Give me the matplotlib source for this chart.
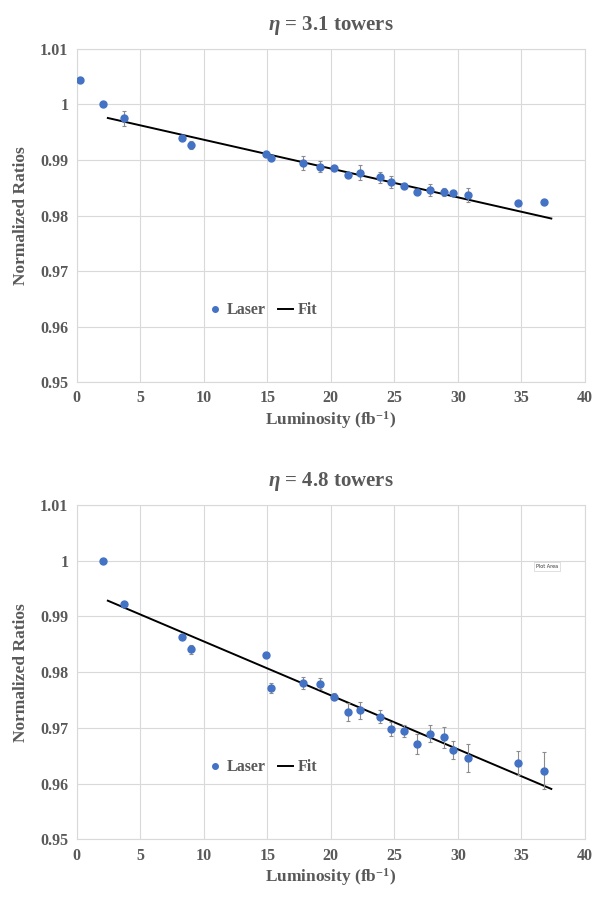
import numpy as np
import matplotlib
matplotlib.use("Agg")
import matplotlib.pyplot as plt
from matplotlib.lines import Line2D
from matplotlib.ticker import FuncFormatter

# luminosity points (fb^-1) and normalized laser ratios for the two tower rings
lumi = [0.26, 2.05, 3.72, 8.26, 9.02, 14.9, 15.3, 17.83, 19.12, 20.22, 21.35,
        22.29, 23.84, 24.75, 25.73, 26.75, 27.77, 28.88, 29.58, 30.81, 34.72, 36.79]

ratio_31 = [1.00444, 1.0, 0.99748, 0.99389, 0.99270, 0.99113, 0.99041, 0.98946,
            0.98879, 0.98862, 0.98723, 0.98772, 0.98687, 0.98610, 0.98532, 0.98424,
            0.98460, 0.98424, 0.98406, 0.98371, 0.98232, 0.98237]
err_31 = [0, 0, 0.0013, 0.0002, 0.0008, 0.0003, 0.0005, 0.0012, 0.001, 0.0003, 0.0003,
          0.0014, 0.001, 0.0011, 0.0004, 0.0003, 0.001, 0.0008, 0.0003, 0.0013, 0.0003, 0.0003]

# eta 4.8 has no point at the first luminosity
lumi_48 = lumi[1:]
ratio_48 = [1.0, 0.99217, 0.98636, 0.98409, 0.98302, 0.97709, 0.97802, 0.97792,
            0.97558, 0.97289, 0.97314, 0.97199, 0.96984, 0.96948, 0.96715, 0.96894,
            0.96829, 0.96596, 0.96452, 0.96373, 0.96230]
err_48 = [0, 0.0003, 0.0003, 0.0008, 0.0003, 0.0009, 0.0011, 0.001, 0.0006, 0.0016,
          0.0015, 0.0012, 0.0013, 0.0011, 0.0018, 0.0015, 0.0019, 0.0016, 0.0025,
          0.0022, 0.0033]

# linear fits (slope, intercept) and range drawn
fit_31 = (-0.000519, 0.99884)
fit_48 = (-0.000968, 0.9952)
fit_range = [2.45, 37.35]

panels = [
    (r"$\eta$ = 3.1 towers", lumi, ratio_31, err_31, fit_31),
    (r"$\eta$ = 4.8 towers", lumi_48, ratio_48, err_48, fit_48),
]

plt.rcParams['font.family'] = ['Liberation Serif', 'DejaVu Serif']
plt.rcParams['mathtext.fontset'] = 'custom'
plt.rcParams['mathtext.it'] = 'Liberation Serif:italic:bold'
plt.rcParams['mathtext.bf'] = 'Liberation Serif:bold'
plt.rcParams['mathtext.rm'] = 'Liberation Serif:bold'

txt = '#595959'
grid = '#d9d9d9'
blue = '#4472C4'

fig = plt.figure(figsize=(5.96, 8.97), dpi=100)
rects = [[0.1287, 0.5741, 0.8528, 0.3713], [0.1287, 0.0643, 0.8528, 0.3727]]

for rect, (title, x, y, e, fit) in zip(rects, panels):
    ax = fig.add_axes(rect)
    ax.errorbar(x, y, yerr=e, fmt='o', color=blue, ms=5, ecolor='#8c8c8c',
                elinewidth=0.8, capsize=1.5, capthick=0.8, zorder=3)
    fx = np.array(fit_range)
    ax.plot(fx, fit[0] * fx + fit[1], color='black', lw=1.4, zorder=2)

    ax.set_xlim(0, 40)
    ax.set_ylim(0.95, 1.01)
    ax.set_xticks(range(0, 41, 5))
    ax.set_yticks(np.arange(0.95, 1.0101, 0.01))
    ax.yaxis.set_major_formatter(FuncFormatter(lambda v, p: f"{round(v, 2):g}"))
    ax.grid(True, color=grid, lw=0.8)
    ax.set_axisbelow(True)
    for s in ax.spines.values():
        s.set_color(grid)
        s.set_linewidth(0.8)
    ax.tick_params(length=0, pad=6, labelsize=11.5, labelcolor=txt)
    for lab in ax.get_xticklabels() + ax.get_yticklabels():
        lab.set_fontweight('bold')

    ax.set_title(title, fontsize=15, fontweight='bold', color=txt, pad=14)
    ax.set_xlabel(r"Luminosity (fb$^{\mathbf{-1}}$)", fontsize=12.5,
                  fontweight='bold', color=txt, labelpad=2)
    ax.set_ylabel("Normalized Ratios", fontsize=12.5, fontweight='bold',
                  color=txt, labelpad=8)

    handles = [Line2D([], [], ls='none', marker='o', ms=4, color=blue),
               Line2D([], [], color='black', lw=1.4)]
    leg = ax.legend(handles, ['Laser', 'Fit'], loc='center',
                    bbox_to_anchor=(0.365, 0.215), ncol=2, frameon=False,
                    handlelength=0.9, handletextpad=0.3, columnspacing=0.8,
                    prop={'weight': 'bold', 'size': 11.5})
    for t in leg.get_texts():
        t.set_color(txt)

# stray "Plot Area" hover tip in the lower panel
ax.text(0.925, 0.815, "Plot Area", transform=ax.transAxes, fontsize=3.5,
        family='DejaVu Sans', color='#333333', ha='center', va='center',
        bbox=dict(boxstyle='square,pad=0.4', fc='white', ec='#c8c8c8', lw=0.4))

fig.savefig("out.png", dpi=100)
